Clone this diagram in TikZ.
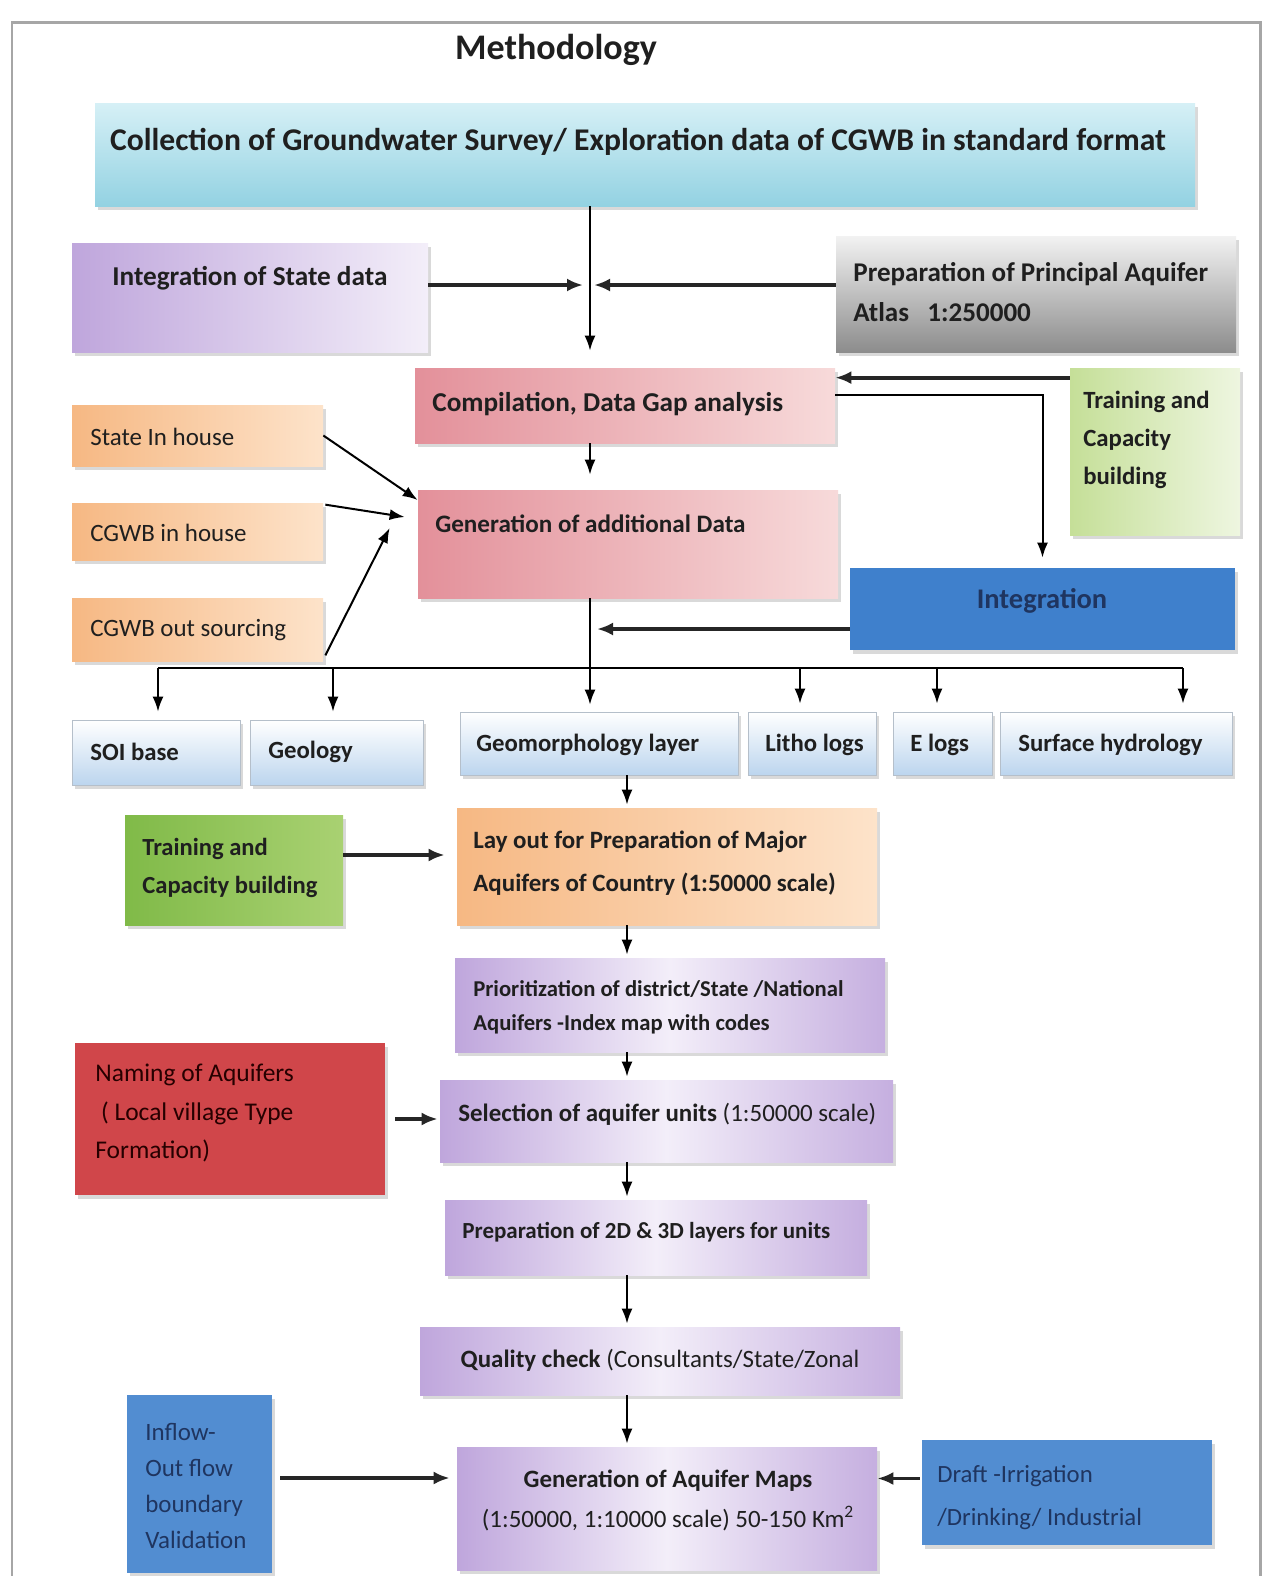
\documentclass[tikz,border=0pt]{standalone}
\usepackage{fontspec}
\setmainfont{Carlito}
\usetikzlibrary{arrows.meta,positioning,calc,fit,shadows}

\definecolor{cyanlo}{HTML}{93D2E2}
\definecolor{cyanhi}{HTML}{D6F0F6}
\definecolor{lilac}{HTML}{BFA6DC}
\definecolor{lilachi}{HTML}{F3EEF9}
\definecolor{rosy}{HTML}{E3909A}
\definecolor{rosyhi}{HTML}{F7DADA}
\definecolor{peach}{HTML}{F6B883}
\definecolor{peachhi}{HTML}{FDE3CA}
\definecolor{limehi}{HTML}{EEF6E0}
\definecolor{lime}{HTML}{C5DF98}
\definecolor{grass}{HTML}{80BA48}
\definecolor{grasshi}{HTML}{A9D172}
\definecolor{skyhi}{HTML}{FFFFFF}
\definecolor{sky}{HTML}{BCD5EE}
\definecolor{ocean}{HTML}{3F80CC}
\definecolor{brick}{HTML}{D0464A}
\definecolor{navy}{HTML}{1F3560}

\begin{document}
\begin{tikzpicture}[x=0.02cm, y=-0.02cm,
    box/.style={inner sep=0pt, draw=none,
      drop shadow={opacity=0.3, shadow xshift=0.05cm, shadow yshift=-0.08cm}},
    fb/.style 2 args={font=\bfseries\fontsize{#1}{#2}\selectfont},
    fr/.style 2 args={font=\fontsize{#1}{#2}\selectfont},
    txt/.style={inner sep=0pt, anchor=west, align=left, text=black!88},
    arr/.style={-{Latex[length=0.3cm,width=0.22cm]}, line width=0.04cm},
    arrT/.style={-{Latex[length=0.32cm,width=0.26cm]}, line width=0.075cm, black!85},
    purp/.style={box, left color=lilac, right color=lilac!90, middle color=lilachi},
    rowbox/.style={box, top color=skyhi, bottom color=sky, draw=sky!70!black!60},
    ornge/.style={box, left color=peach, right color=peachhi},
  ]
  \useasboundingbox (0,0) rectangle (1268,1576);
  \draw[gray!70, line width=0.06cm] (12,1576) -- (12,22) -- (1260,22) -- (1260,1576);

  % title and top row
  \node[txt, anchor=center, fb={20.5}{24}] (title) at (556,50) {Methodology};

  \node[box, fit={(95,103) (1195,206)}, top color=cyanhi, bottom color=cyanlo] (collect) {};
  \node[txt, anchor=center, fb={18}{21}] (collect-t) at (638,142)
    {Collection of Groundwater Survey/ Exploration data of CGWB in standard format};

  \node[box, fit={(72,243) (428,352)}, left color=lilac, right color=lilachi] (state) {};
  \node[txt, fb={15.5}{22.8}] (state-t) at (112,278) {Integration of State data};

  \node[box, fit={(836,236) (1236,352)}, top color=white!95!black, bottom color=black!45] (atlas) {};
  \node[txt, fb={15.4}{22.8}] (atlas-t) at (853,292) {Preparation of Principal Aquifer\\Atlas~~~1:250000};

  % compilation block
  \node[box, fit={(415,368) (835,443)}, left color=rosy, right color=rosyhi] (compil) {};
  \node[txt, fb={15.5}{18}] (compil-t) at (432,404) {Compilation, Data Gap analysis};

  \node[box, fit={(1070,368) (1240,535)}, left color=lime, right color=limehi] (train1) {};
  \node[txt, fb={14.1}{21.6}] (train1-t) at (1083,440) {Training and\\Capacity\\building};

  \node[box, fit={(418,490) (838,598)}, left color=rosy, right color=rosyhi] (gen) {};
  \node[txt, fb={14.3}{17}] (gen-t) at (435,524) {Generation of additional Data};

  \node[box, fit={(850,568) (1235,650)}, fill=ocean] (integ) {};
  \node[txt, anchor=center, fb={16.2}{19}, text=navy] (integ-t) at (1042,601) {Integration};

  \node[ornge, fit={(72,405) (323,466)}] (sih) {};
  \node[txt, fr={14.2}{17}] (sih-t) at (90,437) {State In house};
  \node[ornge, fit={(72,503) (323,560)}] (cih) {};
  \node[txt, fr={14.2}{17}] (cih-t) at (90,533) {CGWB in house};
  \node[ornge, fit={(72,598) (323,661)}] (cos) {};
  \node[txt, fr={14.2}{17}] (cos-t) at (90,630) {CGWB out sourcing};

  % layer row
  \node[rowbox, fit={(72,720) (240,785)}] (soi) {};
  \node[txt, fb={14.1}{17}] (soi-t) at (90,752) {SOI base};
  \node[rowbox, fit={(250,720) (423,785)}] (geol) {};
  \node[txt, fb={14.1}{17}] (geol-t) at (268,752) {Geology};
  \node[rowbox, fit={(460,712) (738,775)}] (geom) {};
  \node[txt, fb={14.1}{17}] (geom-t) at (476,745) {Geomorphology layer};
  \node[rowbox, fit={(748,712) (876,775)}] (litho) {};
  \node[txt, fb={14.1}{17}] (litho-t) at (765,745) {Litho logs};
  \node[rowbox, fit={(893,712) (992,775)}] (elogs) {};
  \node[txt, fb={14.1}{17}] (elogs-t) at (910,745) {E logs};
  \node[rowbox, fit={(1000,712) (1232,775)}] (surf) {};
  \node[txt, fb={14.1}{17}] (surf-t) at (1018,745) {Surface hydrology};

  % main chain
  \node[ornge, fit={(457,808) (877,925)}] (layout) {};
  \node[txt, fb={14.2}{24.5}] (layout-t) at (473,863)
    {Lay out for Preparation of Major\\Aquifers of Country (1:50000 scale)};

  \node[box, fit={(125,815) (343,925)}, left color=grass, right color=grasshi] (train2) {};
  \node[txt, fb={14}{22}] (train2-t) at (142,868) {Training and\\Capacity building};

  \node[purp, fit={(455,958) (885,1052)}] (prior) {};
  \node[txt, fb={12.9}{19.3}] (prior-t) at (473,1007)
    {Prioritization of district/State /National\\Aquifers -Index map with codes};

  \node[box, fit={(75,1043) (385,1195)}, fill=brick] (naming) {};
  \node[txt, fr={14.5}{22}, text=black!85!red] (naming-t) at (95,1113)
    {Naming of Aquifers\\\ ( Local village Type\\Formation)};

  \node[purp, fit={(440,1080) (893,1162)}] (select) {};
  \node[txt, fb={14.2}{17}] (select-t) at (458,1114)
    {Selection of aquifer units \mdseries(1:50000 scale)};

  \node[purp, fit={(445,1200) (867,1275)}] (prep) {};
  \node[txt, fb={13.1}{16}] (prep-t) at (462,1232) {Preparation of 2D \& 3D layers for units};

  \node[purp, fit={(420,1327) (900,1395)}] (quality) {};
  \node[txt, anchor=center, fb={14.2}{17}] (quality-t) at (660,1360)
    {Quality check \mdseries(Consultants/State/Zonal};

  \node[purp, fit={(457,1447) (877,1570)}] (maps) {};
  \node[txt, anchor=center, align=center, fb={14.2}{22.8}] (maps-t) at (668,1500)
    {Generation of Aquifer Maps\\\mdseries(1:50000, 1:10000 scale) 50-150 Km\textsuperscript{2}};

  \node[box, fit={(127,1395) (272,1573)}, fill=ocean!90!white] (inflow) {};
  \node[txt, fr={14.2}{20.5}, text=navy] (inflow-t) at (145,1486)
    {Inflow-\\Out flow\\boundary\\Validation};

  \node[box, fit={(922,1440) (1212,1545)}, fill=ocean!90!white] (draft) {};
  \node[txt, fr={14.1}{24.5}, text=navy] (draft-t) at (937,1498)
    {Draft -Irrigation\\/Drinking/ Industrial};

  % connectors
  \coordinate (j1) at (590,285);
  \draw[arr, shorten >=0.34cm] (collect.south -| j1) -- (compil.north -| j1);
  \draw[arrT, shorten >=0.14cm] (state.east |- j1) -- (j1);
  \draw[arrT, shorten >=0.08cm] (atlas.west |- j1) -- (j1);

  \path ($(train1.north west)+(0,10)$) coordinate (t1);
  \draw[arrT] (t1) -- (t1 -| compil.east);
  \path ($(compil.north east)+(0,27)$) coordinate (c1);
  \draw[arr, shorten >=0.2cm] (c1) -| (integ.north);
  \draw[arr, shorten >=0.3cm] (compil.south -| j1) -- (gen.north -| j1);

  \draw[arr] (sih.east) -- ($(gen.west)+(0,-44)$);
  \draw[arr] ($(cih.north east)+(2,2)$) -- ($(gen.west)+(-13,-27)$);
  \draw[arr] ($(cos.south east)+(2,-6)$) -- ($(gen.west)+(-28,-16)$);

  \coordinate (bl) at (158,668);
  \coordinate (br) at (1183,668);
  \draw[line width=0.04cm] (bl) -- (br);
  \draw[arr, shorten >=0.14cm] (gen.south -| j1) -- (geom.north -| j1);
  \foreach \x/\n in {158/soi,333/geol,800/litho,937/elogs,1183/surf}
    \draw[arr, shorten >=0.16cm] (\x,668) -- (\n.north -| \x,668);

  \coordinate (j2) at (597,629);
  \draw[arrT] (integ.west |- j2) -- (j2);

  \coordinate (sp) at (627,790);
  \foreach \a/\b in {geom/layout,layout/prior,prior/select,select/prep,prep/quality,quality/maps}
    \draw[arr, shorten >=0.06cm] (\a.south -| sp) -- (\b.north -| sp);

  \path ($(train2.east)+(0,-15)$) coordinate (t2);
  \draw[arrT, shorten >=0.24cm] (t2) -- (t2 -| layout.west);
  \draw[arrT, shorten <=0.2cm, shorten >=0.04cm] (naming.east) -- (naming.east -| select.west);
  \path ($(inflow.east)+(0,-6)$) coordinate (i1);
  \draw[arrT, shorten <=0.16cm, shorten >=0.14cm] (i1) -- (i1 -| maps.west);
  \path ($(draft.west)+(0,-14)$) coordinate (d1);
  \draw[arrT, shorten <=0.04cm] (d1) -- (d1 -| maps.east);
\end{tikzpicture}
\end{document}
